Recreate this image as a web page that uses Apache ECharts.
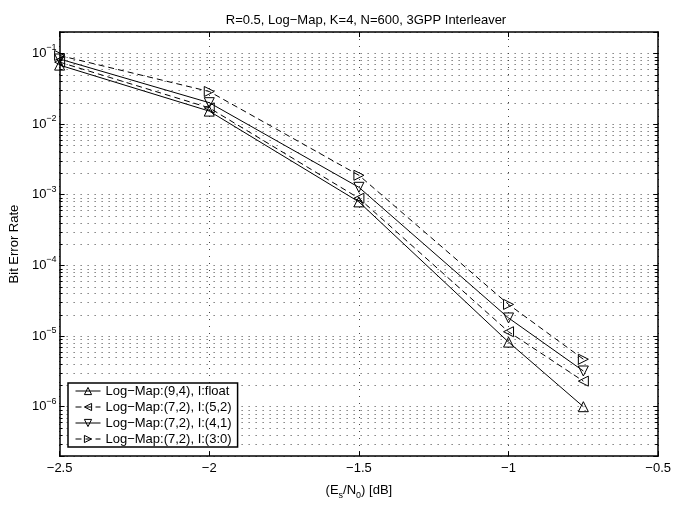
<!DOCTYPE html>
<html>
<head>
<meta charset="utf-8">
<title>BER</title>
<script src="https://cdn.jsdelivr.net/npm/echarts@6/dist/echarts.min.js"></script>
<style>
  html, body { margin: 0; padding: 0; background: #fff; }
  #chart { width: 674px; height: 505px; }
</style>
</head>
<body>
<div id="chart"></div>
<script>
// Eb/N0 points
var snr = [-2.5, -2, -1.5, -1, -0.75];

// BER
var berFloat = [0.068, 0.0152, 7.9e-4, 8.2e-6, 1.0e-6];
var ber52 = [0.075, 0.0169, 8.9e-4, 1.15e-5, 2.3e-6];
var ber41 = [0.083, 0.020, 1.27e-3, 1.8e-5, 3.2e-6];
var ber30 = [0.093, 0.0288, 1.88e-3, 2.8e-5, 4.7e-6];

var seriesNames = ['Log\u2212Map:(9,4), I:float', 'Log\u2212Map:(7,2), I:(5,2)', 'Log\u2212Map:(7,2), I:(4,1)', 'Log\u2212Map:(7,2), I:(3:0)'];

// axis ranges and log minor grid
var xMin = -2.5, xMax = -0.5;
var yMin = 2e-7, yMax = 0.2;
var decades = [1e-7, 1e-6, 1e-5, 1e-4, 1e-3, 1e-2, 1e-1];
var minorMult = [2, 3, 4, 5, 6, 7, 8, 9];

var FONT = 'Liberation Sans, Arial, Helvetica, sans-serif';
var DOT = [1, 6];
var FRAME = 1.5;

var minorData = [];
decades.forEach(function (d) {
  minorMult.forEach(function (m) {
    var v = d * m;
    if (v > yMin * 1.0001 && v < yMax * 0.9999) minorData.push([xMin, v]);
  });
});

function pairs(ys) {
  return snr.map(function (x, i) { return [x, ys[i]]; });
}

function lineSeries(name, ys, rot, dashed) {
  return {
    name: name,
    type: 'line',
    data: pairs(ys),
    symbol: 'triangle',
    symbolSize: 10,
    symbolRotate: rot,
    showSymbol: true,
    lineStyle: { color: '#000', width: 1, type: dashed ? [6, 4] : 'solid' },
    itemStyle: { color: 'rgba(255,255,255,0)', borderColor: '#000', borderWidth: 1 },
    emphasis: { disabled: true },
    z: 5
  };
}

var chart = echarts.init(document.getElementById('chart'), null, { renderer: 'canvas' });

var option = {
  animation: false,
  backgroundColor: '#fff',
  textStyle: { fontFamily: FONT },
  title: {
    text: 'R=0.5, Log\u2212Map, K=4, N=600, 3GPP Interleaver',
    left: 361,
    top: 9,
    textAlign: 'center',
    textStyle: { fontSize: 13, fontWeight: 'normal', color: '#000', fontFamily: FONT }
  },
  grid: { left: 57, right: 8, top: 32, bottom: 38, containLabel: false },
  legend: {
    orient: 'vertical',
    left: 68,
    top: 383,
    padding: [1, 6, 1, 7],
    itemGap: 2,
    itemWidth: 25,
    itemHeight: 9,
    backgroundColor: '#fff',
    borderColor: '#000',
    borderWidth: FRAME,
    borderRadius: 0,
    itemStyle: { color: 'rgba(255,255,255,0)', borderColor: '#000', borderWidth: 1 },
    lineStyle: { color: '#000', width: 1 },
    textStyle: { fontSize: 13, lineHeight: 14, color: '#000', fontFamily: FONT },
    data: seriesNames
  },
  xAxis: [{
    type: 'value',
    min: xMin,
    max: xMax,
    interval: 0.5,
    name: '(E{sub|s}/N{sub|0}) [dB]',
    nameLocation: 'middle',
    nameGap: 20,
    nameTextStyle: {
      color: '#000', fontSize: 13, fontFamily: FONT, lineHeight: 20,
      rich: { sub: { fontSize: 9, lineHeight: 9, verticalAlign: 'bottom', fontFamily: FONT, color: '#000' } }
    },
    axisLine: { show: true, onZero: false, lineStyle: { color: '#000', width: FRAME } },
    axisTick: { show: true, inside: true, length: 5, lineStyle: { color: '#000' } },
    axisLabel: {
      color: '#000', fontSize: 13, fontFamily: FONT, margin: 6,
      formatter: function (v) { return String(v).replace('-', '\u2212'); }
    },
    splitLine: { show: true, lineStyle: { color: '#444', type: DOT, width: 1 } }
  }, {
    type: 'value',
    position: 'top',
    min: xMin,
    max: xMax,
    interval: 0.5,
    axisLine: { show: true, onZero: false, lineStyle: { color: '#000', width: FRAME } },
    axisTick: { show: true, inside: true, length: 5, lineStyle: { color: '#000' } },
    axisLabel: { show: false },
    splitLine: { show: false }
  }],
  yAxis: [{
    type: 'log',
    logBase: 10,
    min: yMin,
    max: yMax,
    name: 'Bit Error Rate',
    nameLocation: 'middle',
    nameGap: 34,
    nameTextStyle: { color: '#000', fontSize: 13, fontFamily: FONT },
    axisLine: { show: true, onZero: false, lineStyle: { color: '#000', width: FRAME } },
    axisTick: { show: true, inside: true, length: 5, lineStyle: { color: '#000' } },
    axisLabel: {
      color: '#000', fontSize: 13, fontFamily: FONT, margin: 3, lineHeight: 20,
      formatter: function (v) {
        var e = Math.log10(v);
        var r = Math.round(e);
        if (Math.abs(e - r) > 1e-6) return '';
        return '10{sup|' + String(r).replace('-', '\u2212') + '}';
      },
      rich: { sup: { fontSize: 9, lineHeight: 9, verticalAlign: 'top', fontFamily: FONT, color: '#000' } }
    },
    splitLine: { show: true, lineStyle: { color: '#444', type: DOT, width: 1 } }
  }, {
    type: 'log',
    logBase: 10,
    position: 'right',
    min: yMin,
    max: yMax,
    axisLine: { show: true, onZero: false, lineStyle: { color: '#000', width: FRAME } },
    axisTick: { show: true, inside: true, length: 5, lineStyle: { color: '#000' } },
    axisLabel: { show: false },
    splitLine: { show: false }
  }],
  series: [
    {
      name: 'minorGrid',
      type: 'custom',
      silent: true,
      z: 1,
      data: minorData,
      renderItem: function (params, api) {
        var a = api.coord([xMin, api.value(1)]);
        var b = api.coord([xMax, api.value(1)]);
        var y = Math.round(a[1]) + 0.5;
        return {
          type: 'group',
          children: [
            { type: 'line', shape: { x1: a[0], y1: y, x2: b[0], y2: y },
              style: { stroke: '#444', lineWidth: 1, lineDash: DOT } },
            { type: 'line', shape: { x1: a[0], y1: y, x2: a[0] + 3, y2: y },
              style: { stroke: '#000', lineWidth: 1 } },
            { type: 'line', shape: { x1: b[0] - 3, y1: y, x2: b[0], y2: y },
              style: { stroke: '#000', lineWidth: 1 } }
          ]
        };
      }
    },
    lineSeries(seriesNames[0], berFloat, 0, false),
    lineSeries(seriesNames[1], ber52, 90, true),
    lineSeries(seriesNames[2], ber41, 180, false),
    lineSeries(seriesNames[3], ber30, -90, true)
  ]
};

chart.setOption(option);
</script>
</body>
</html>
